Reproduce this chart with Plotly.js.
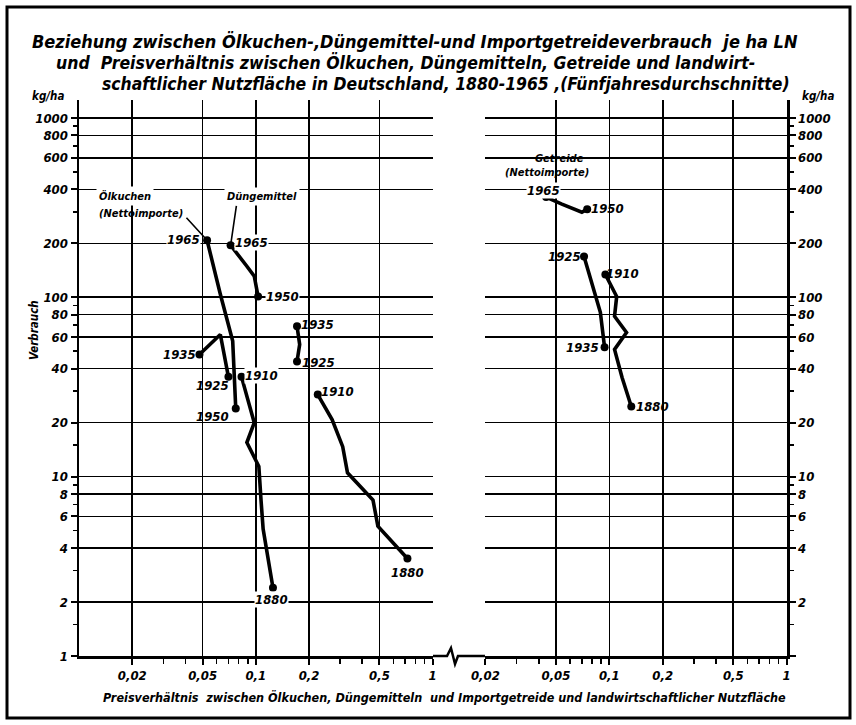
<!DOCTYPE html>
<html><head><meta charset="utf-8">
<script src="https://cdn.plot.ly/plotly-3.0.1.min.js"></script>
<style>html,body{margin:0;padding:0;background:#fff}</style>
</head><body><div id="chart" style="width:856px;height:725px"></div>
<script>
// ---------- data ----------
const years = [1880,1885,1890,1895,1900,1905,1910,1925,1930,1935,1950,1955,1960,1965];
// Ölkuchen (Nettoimporte)
const priceOel = [0.125,0.110,0.107,0.104,0.089,0.098,0.083,0.070,0.063,0.048,0.077,0.074,0.063,0.053];
const useOel   = [2.4,5.1,7.4,11.4,15.5,20.0,36,36,62,48,24,57,104,208];
// Düngemittel
const priceDung = [0.72,0.49,0.46,0.33,0.31,0.27,0.224,0.171,0.177,0.171,0.103,0.098,0.089,0.072];
const useDung   = [3.5,5.3,7.4,10.5,14.7,20.8,28.7,43.9,54.6,68.9,101,131,149,195];
// Getreide (Nettoimporte)
const priceGet = [0.133,0.118,0.107,0.125,0.107,0.110,0.095,0.072,0.089,0.094,0.075,0.070,0.054,0.044];
const useGet   = [24.6,35.7,51.2,63.7,78.3,101,134,169,82.5,52.6,310,298,331,362];
const labelledYears = [1880,1910,1925,1935,1950,1965];

// axis ticks
const yTickVals = [1,2,4,6,8,10,20,40,60,80,100,200,400,600,800,1000];
const yTickText = ['1','2','4','6','8','10','20','40','60','80','100','200','400','600','800','1000'];
const yTickText2 = ['','2','4','6','8','10','20','40','60','80','100','200','400','600','800','1000'];
const yMinorVals = [1.5,3,5,7,9,15,30,50,70,90,300,500,700,900];
const xTickVals = [0.02,0.05,0.1,0.2,0.5,1];
const xTickText = ['0,02','0,05','0,1','0,2','0,5','1'];
const xMinorVals = [0.03,0.04,0.06,0.07,0.08,0.09,0.3,0.4,0.6,0.7,0.8,0.9];

// ---------- styling ----------
const FONT = "DejaVu Sans Condensed, DejaVu Sans, sans-serif";
function fnt(size, weight){ return {family: FONT, size: size, color: '#000', weight: weight || 'bold', style: 'italic'}; }

function build(px, py){
  const x=[], y=[], s=[];
  for (let i=0;i<years.length;i++){
    const gapBefore = i>0 && years[i]-years[i-1]>5;
    const gapAfter = i===years.length-1 || years[i+1]-years[i]>5;
    if (gapBefore){ x.push(null); y.push(null); s.push(0); }
    x.push(px[i]); y.push(py[i]);
    s.push((i===0 || gapBefore || gapAfter) ? 8 : 0);
  }
  return {x, y, s};
}
function trace(px, py, xa, ya, name){
  const b = build(px, py);
  return {type:'scatter', mode:'lines+markers', name:name, x:b.x, y:b.y, xaxis:xa, yaxis:ya,
    connectgaps:false, line:{color:'#000', width:3.6},
    marker:{color:'#000', size:b.s, opacity:1, line:{width:0, color:'#000'}}, hoverinfo:'skip'};
}
const traces = [
  trace(priceOel, useOel, 'x', 'y', 'Ölkuchen'),
  trace(priceDung, useDung, 'x', 'y', 'Düngemittel'),
  trace(priceGet, useGet, 'x2', 'y2', 'Getreide')
];

// label placement (pixel shifts from the point)
const shifts = {
  oel:  {1965:[-24,1],1950:[-23,-8],1935:[-20,0],1925:[-16,-9],1910:[20,1],1880:[-1,-12]},
  dung: {1965:[21,3],1950:[24,0],1935:[20,2],1925:[21,-1],1910:[20,3],1880:[0,-14]},
  get:  {1965:[-3,7],1950:[20,1],1925:[-20,0],1910:[17,1],1935:[-22,0],1880:[21,0]}
};
const bgLabels = {oel:[1965,1910,1880], dung:[1965,1950], get:[1965]};
const annotations = [];
function yearLabels(key, px, py, xr, yr){
  labelledYears.forEach(function(yr0){
    const i = years.indexOf(yr0);
    const sh = shifts[key][yr0];
    const bg = bgLabels[key].indexOf(yr0) >= 0;
    annotations.push({xref:xr, yref:yr, x:Math.log10(px[i]), y:Math.log10(py[i]), text:String(yr0),
      showarrow:false, xshift:sh[0], yshift:sh[1], font:fnt(13), bgcolor: bg ? '#fff' : 'rgba(0,0,0,0)', borderpad:0});
  });
}
yearLabels('oel', priceOel, useOel, 'x', 'y');
yearLabels('dung', priceDung, useDung, 'x', 'y');
yearLabels('get', priceGet, useGet, 'x2', 'y2');

const iLast = years.length-1;
function seriesLabel(text, px, py, xr, yr, dx, dy, bg){
  annotations.push({xref:xr, yref:yr, x:Math.log10(px[iLast]), y:Math.log10(py[iLast]), text:text,
    showarrow:false, xshift:dx, yshift:dy, font:fnt(11,'600'), bgcolor: bg ? '#fff' : 'rgba(0,0,0,0)', borderpad:2});
}
seriesLabel('Ölkuchen', priceOel, useOel, 'x', 'y', -82, 44, true);
seriesLabel('(Nettoimporte)', priceOel, useOel, 'x', 'y', -66, 27, false);
seriesLabel('Düngemittel', priceDung, useDung, 'x', 'y', 31, 49, true);
seriesLabel('Getreide', priceGet, useGet, 'x2', 'y2', 13, 39, false);
seriesLabel('(Nettoimporte)', priceGet, useGet, 'x2', 'y2', 1, 25, false);
// leader lines
annotations.push({xref:'x', yref:'y', x:Math.log10(priceOel[iLast]), y:Math.log10(useOel[iLast]), text:'',
  showarrow:true, arrowhead:0, arrowwidth:1.6, arrowcolor:'#000', ax:-22, ay:-24});
annotations.push({xref:'x', yref:'y', x:Math.log10(priceDung[iLast]), y:Math.log10(useDung[iLast]), text:'',
  showarrow:true, arrowhead:0, arrowwidth:1.6, arrowcolor:'#000', ax:6, ay:-41});

// titles and axis captions (paper coords: x=(px-79)/708, y=(656-py)/556)
function P(px, py){ return {x:(px-79)/708, y:(656-py)/556}; }
function paperText(text, px, py, size, anchor, angle, weight){
  const p = P(px, py);
  annotations.push({xref:'paper', yref:'paper', x:p.x, y:p.y, text:text, showarrow:false,
    xanchor:anchor, yanchor:'middle', font:fnt(size, weight), textangle: angle || 0});
}
paperText('Beziehung zwischen Ölkuchen-,Düngemittel-und Importgetreideverbrauch  je ha LN', 30, 42, 18, 'left');
paperText('und  Preisverhältnis zwischen Ölkuchen, Düngemitteln, Getreide und landwirt-', 54, 63, 17.5, 'left');
paperText('schaftlicher Nutzfläche in Deutschland, 1880-1965 ,(Fünfjahresdurchschnitte)', 100, 84, 17.4, 'left');
paperText('kg/ha', 48, 96, 11.5, 'center');
paperText('kg/ha', 818, 96, 11.5, 'center');
paperText('Verbrauch', 34, 330, 11.5, 'center', -90, '600');
paperText('Preisverhältnis  zwischen Ölkuchen, Düngemitteln  und Importgetreide und landwirtschaftlicher Nutzfläche', 445, 697, 12.5, 'center');

// decorative frame and axis break
function pp(px, py){ const p = P(px, py); return p.x.toFixed(4)+','+p.y.toFixed(4); }
const shapes = [
  {type:'rect', xref:'paper', yref:'paper', x0:P(7,0).x, x1:P(850,0).x, y0:P(0,718).y, y1:P(0,7).y,
   line:{color:'#000', width:3}, fillcolor:'rgba(0,0,0,0)'},
  {type:'path', xref:'paper', yref:'paper',
   path:'M'+pp(433,656)+' L'+pp(447,656)+' L'+pp(451,648)+' L'+pp(455,664)+' L'+pp(458,656)+' L'+pp(485,656),
   line:{color:'#000', width:2.5}}
];

function xAxis(domain, range, anchor){
  return {type:'log', domain:domain, range:range, anchor:anchor, tickmode:'array', tickvals:xTickVals, ticktext:xTickText,
    ticks:'outside', ticklen:6, tickwidth:2, tickcolor:'#000', showgrid:true, gridcolor:'#000', gridwidth:1.6,
    showline:true, linecolor:'#000', linewidth:2.5, zeroline:false, tickfont:fnt(13),
    minor:{tickmode:'array', tickvals:xMinorVals, ticks:'outside', ticklen:5, tickwidth:1.6, tickcolor:'#000', showgrid:false}};
}
function yAxis(anchor, side, text){
  return {type:'log', domain:[0,1], range:[0,3.1], anchor:anchor, side:side, tickmode:'array', tickvals:yTickVals, ticktext:text,
    ticks:'outside', ticklen:6, tickwidth:2, tickcolor:'#000', showgrid:true, gridcolor:'#000', gridwidth:1.6,
    showline:true, linecolor:'#000', linewidth:2.5, zeroline:false, tickfont:fnt(13),
    minor:{tickmode:'array', tickvals:yMinorVals, ticks:'outside', ticklen:4, tickwidth:1.6, tickcolor:'#000', showgrid:false}};
}

const layout = {
  width:856, height:725, autosize:false,
  margin:{l:79, r:69, t:100, b:69, pad:0},
  paper_bgcolor:'#fff', plot_bgcolor:'#fff', showlegend:false,
  xaxis: xAxis([0,0.5], [-2, 0.002], 'y'),
  xaxis2: xAxis([406/708, 1], [Math.log10(0.0199), 0.002], 'y2'),
  yaxis: yAxis('x', 'left', yTickText),
  yaxis2: yAxis('x2', 'right', yTickText2),
  annotations: annotations,
  shapes: shapes
};
Plotly.newPlot('chart', traces, layout, {displayModeBar:false, staticPlot:true});
</script>
</body></html>
